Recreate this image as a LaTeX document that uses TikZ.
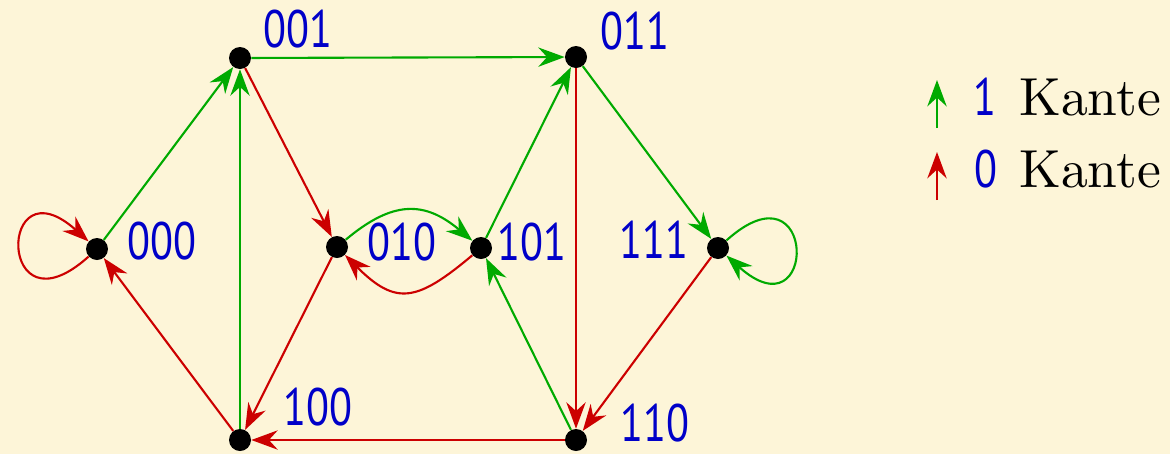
\documentclass[tikz,border=0pt]{standalone}
\usepackage{fontspec}
\newfontfamily\labfont{PT Sans}
\newfontfamily\kfont{lmroman10-regular.otf}
\usetikzlibrary{arrows.meta}
\definecolor{bgc}{RGB}{253,245,216}
\definecolor{gedge}{RGB}{0,170,0}
\definecolor{redge}{RGB}{204,0,0}
\definecolor{lblue}{RGB}{0,0,200}
\newcommand\digs[1]{\scalebox{0.8}[1]{#1}}
\tikzset{
  dot/.style={circle,fill=black,inner sep=0pt,minimum size=0.44cm},
  lab/.style={text=lblue,font=\labfont\fontsize{30}{34}\selectfont,inner sep=0pt},
  kante/.style={text=black,font=\kfont\fontsize{30.5}{34}\selectfont,inner sep=0pt},
  edge/.style={line width=1.2pt,-{Stealth[length=15pt,width=11pt,inset=5pt]}},
  one/.style={edge,draw=gedge},
  zero/.style={edge,draw=redge}
}
\begin{document}
\begin{tikzpicture}[x=0.02cm,y=-0.02cm]
\fill[bgc] (0,0) rectangle (1170,454);
\useasboundingbox (0,0) rectangle (1170,454);
% states
\node[dot] (n000) at (97,249) {};
\node[dot] (n001) at (240,58) {};
\node[dot] (n010) at (337,247) {};
\node[dot] (n011) at (576,57) {};
\node[dot] (n101) at (481,248) {};
\node[dot] (n111) at (718,248) {};
\node[dot] (n100) at (240,440) {};
\node[dot] (n110) at (576,440) {};
% labels
\node[lab] (t001) at (298,29) {\digs{001}};
\node[lab] (t011) at (635,31) {\digs{011}};
\node[lab] (t000) at (162,241) {\digs{000}};
\node[lab] (t010) at (402,242) {\digs{010}};
\node[lab] (t101) at (532,242) {\digs{101}};
\node[lab] (t111) at (654,240) {\digs{111}};
\node[lab] (t100) at (318,407) {\digs{100}};
\node[lab] (t110) at (655,423) {\digs{110}};
% 1-edges
\draw[one] (n000) -- (n001);
\draw[one] (n100) -- (n001);
\draw[one] (n001) -- (n011);
\draw[one] (n010) to[out=40,in=140,looseness=1.25] (n101);
\draw[one] (n101) -- (n011);
\draw[one] (n110) -- (n101);
\draw[one] (n011) -- (n111);
\draw[one] (n111) .. controls +(100,-90) and +(100,90) .. (n111);
% 0-edges
\draw[zero] (n000) .. controls +(-100,90) and +(-100,-90) .. (n000);
\draw[zero] (n001) -- (n010);
\draw[zero] (n010) -- (n100);
\draw[zero] (n101) to[out=-140,in=-45,looseness=1.45] (n010);
\draw[zero] (n011) -- (n110);
\draw[zero] (n111) -- (n110);
\draw[zero] (n110) -- (n100);
\draw[zero] (n100) -- (n000);
% legend
\coordinate (g1) at (937,128);
\coordinate (g2) at (937,80);
\coordinate (r1) at (937,200);
\coordinate (r2) at (937,152);
\draw[one] (g1) -- (g2);
\draw[zero] (r1) -- (r2);
\node[lab] (l1) at (985,97) {\digs{1}};
\node[lab] (l0) at (986,169) {\digs{0}};
\node[kante,anchor=base west] (k1) at (1019,115) {Kante};
\node[kante,anchor=base west] (k0) at (1019,187) {Kante};
\end{tikzpicture}
\end{document}
